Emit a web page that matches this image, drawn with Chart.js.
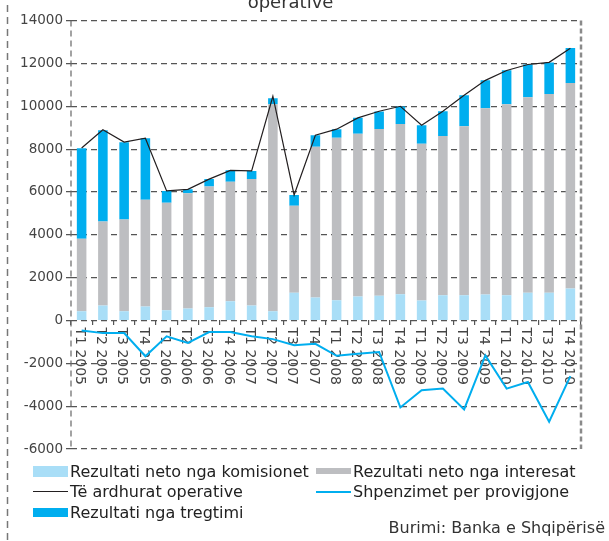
<!DOCTYPE html>
<html>
<head>
<meta charset="utf-8">
<script src="https://cdn.jsdelivr.net/npm/chart.js@4.4.0/dist/chart.umd.min.js"></script>
<style>
  html, body { margin: 0; padding: 0; background: #fff; }
  body { width: 609px; height: 541px; overflow: hidden; position: relative; font-family: 'DejaVu Sans', sans-serif; }
  #wrap { position: absolute; left: 0; top: -7px; width: 609px; height: 548px; }
  #legend { position: absolute; left: 33px; top: 461px; display: grid; grid-template-columns: 283px 280px; grid-auto-rows: 20.5px; font-size: 16px; color: #222; }
  .item { display: flex; align-items: center; white-space: nowrap; }
  .swatch { width: 35px; margin-right: 2px; flex: none; }
  #source { position: absolute; right: 4px; top: 518px; font-size: 16px; color: #333; white-space: nowrap; }
</style>
</head>
<body>
<div id="wrap"><canvas id="myChart" width="609" height="548"></canvas></div>
<div id="legend"></div>
<div id="source">Burimi: Banka e Shqipërisë</div>
<script>
'use strict';

const quarters = [
  'T1 2005', 'T2 2005', 'T3 2005', 'T4 2005',
  'T1 2006', 'T2 2006', 'T3 2006', 'T4 2006',
  'T1 2007', 'T2 2007', 'T3 2007', 'T4 2007',
  'T1 2008', 'T2 2008', 'T3 2008', 'T4 2008',
  'T1 2009', 'T2 2009', 'T3 2009', 'T4 2009',
  'T1 2010', 'T2 2010', 'T3 2010', 'T4 2010'
];
const komisionet = [430, 700, 430, 650, 480, 560, 620, 900, 700, 430, 1300, 1070, 950, 1120, 1160, 1220, 930, 1180, 1180, 1210, 1180, 1300, 1300, 1490];
const interesat = [3380, 3920, 4280, 4990, 5020, 5380, 5630, 5580, 5910, 9660, 4060, 7040, 7580, 7600, 7780, 7950, 7320, 7430, 7890, 8700, 8920, 9120, 9270, 9600];
const tregtimi = [4230, 4260, 3610, 2870, 540, 190, 360, 530, 370, 280, 500, 540, 400, 740, 820, 820, 870, 1160, 1440, 1300, 1580, 1530, 1470, 1630];
const ardhurat = [8050, 8900, 8330, 8510, 6050, 6120, 6600, 7010, 6980, 10470, 5860, 8650, 8930, 9460, 9770, 10000, 9120, 9770, 10510, 11210, 11670, 11950, 12050, 12710];
const provigjone = [-470, -590, -590, -1670, -740, -1050, -540, -540, -740, -870, -1160, -1090, -1650, -1550, -1470, -4060, -3260, -3180, -4150, -1630, -3180, -2870, -4730, -2600];

const yTicks = { min: -6000, max: 14000, step: 2000 };

Chart.defaults.font.family = "'DejaVu Sans', sans-serif";

// frame, outer dashed rule and the rotated quarter labels under the zero line
const framePlugin = {
  id: 'frame',
  beforeDatasetsDraw(chart) {
    const { ctx, chartArea: a, scales: { x, y } } = chart;
    ctx.save();
    ctx.setLineDash([6, 4]);
    ctx.strokeStyle = '#666';
    ctx.lineWidth = 1.2;
    ctx.beginPath();
    ctx.moveTo(a.left, a.top);
    ctx.lineTo(a.left, a.bottom);
    ctx.stroke();

    ctx.setLineDash([5, 3]);
    ctx.strokeStyle = '#8a8a8a';
    ctx.lineWidth = 2.5;
    ctx.beginPath();
    ctx.moveTo(a.right, a.top);
    ctx.lineTo(a.right, a.bottom);
    ctx.stroke();

    ctx.setLineDash([7, 5]);
    ctx.strokeStyle = '#777';
    ctx.lineWidth = 1.5;
    ctx.beginPath();
    ctx.moveTo(7.5, 0);
    ctx.lineTo(7.5, chart.height);
    ctx.stroke();

    ctx.setLineDash([]);
    ctx.fillStyle = '#444';
    ctx.font = "14px 'DejaVu Sans'";
    ctx.textAlign = 'left';
    ctx.textBaseline = 'middle';
    const y0 = y.getPixelForValue(0) + 7;
    quarters.forEach((q, i) => {
      ctx.save();
      ctx.translate(x.getPixelForValue(i) - 2, y0);
      ctx.rotate(Math.PI / 2);
      ctx.fillText(q, 0, 0);
      ctx.restore();
    });
    ctx.restore();
  }
};

const data = {
  labels: quarters,
  datasets: [
    {
      label: 'Rezultati neto nga komisionet',
      data: komisionet,
      backgroundColor: '#a9def7',
      stack: 'bars',
      order: 1,
      barPercentage: 0.45,
      categoryPercentage: 1
    },
    {
      label: 'Rezultati neto nga interesat',
      data: interesat,
      backgroundColor: '#bdbec1',
      stack: 'bars',
      order: 1,
      barPercentage: 0.45,
      categoryPercentage: 1
    },
    {
      type: 'line',
      label: 'Të ardhurat operative',
      data: ardhurat,
      borderColor: '#231f20',
      borderWidth: 1.2,
      pointRadius: 0,
      tension: 0,
      fill: false,
      stack: 'total',
      order: 0
    },
    {
      type: 'line',
      label: 'Shpenzimet per provigjone',
      data: provigjone,
      borderColor: '#00aeef',
      borderWidth: 2,
      pointRadius: 0,
      tension: 0,
      fill: false,
      stack: 'prov',
      order: 0
    },
    {
      label: 'Rezultati nga tregtimi',
      data: tregtimi,
      backgroundColor: '#00aeef',
      stack: 'bars',
      order: 1,
      barPercentage: 0.45,
      categoryPercentage: 1
    }
  ]
};

const config = {
  type: 'bar',
  data: data,
  plugins: [framePlugin],
  options: {
    responsive: false,
    animation: false,
    devicePixelRatio: 1,
    layout: { padding: { left: 0, right: 28, top: 0, bottom: 92 } },
    plugins: {
      legend: { display: false },
      tooltip: { enabled: false },
      title: {
        display: true,
        text: 'operative',
        color: '#333',
        font: { size: 18, weight: 'normal' },
        padding: { top: 0, bottom: 6 }
      }
    },
    scales: {
      x: {
        stacked: true,
        position: { y: 0 },
        offset: true,
        ticks: { display: false },
        grid: { drawOnChartArea: false, drawTicks: true, tickLength: 5, color: '#555', lineWidth: 1.2, offset: true },
        border: { display: false }
      },
      y: {
        stacked: true,
        min: yTicks.min,
        max: yTicks.max,
        afterFit: (scale) => { scale.width = 71; },
        ticks: {
          stepSize: yTicks.step,
          color: '#444',
          padding: 3,
          font: { size: 13.5 },
          callback: (v) => String(v)
        },
        grid: { color: '#555', lineWidth: 1.2, tickLength: 5, tickBorderDash: [1, 0] },
        border: { display: false, dash: [6, 4] }
      }
    }
  }
};

const myChart = new Chart(document.getElementById('myChart'), config);

// legend swatch heights, by dataset
const swatchHeights = [11, 6, 1.2, 2, 9];
const legend = document.getElementById('legend');
myChart.data.datasets.forEach((ds, i) => {
  const item = document.createElement('div');
  item.className = 'item';
  const sw = document.createElement('span');
  sw.className = 'swatch';
  sw.style.height = swatchHeights[i] + 'px';
  sw.style.background = ds.type === 'line' ? ds.borderColor : ds.backgroundColor;
  const txt = document.createElement('span');
  txt.textContent = ds.label;
  item.appendChild(sw);
  item.appendChild(txt);
  legend.appendChild(item);
});
</script>
</body>
</html>
